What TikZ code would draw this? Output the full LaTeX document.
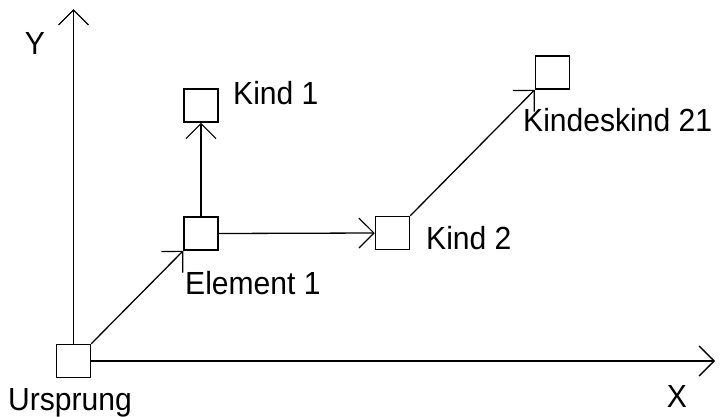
\documentclass[tikz,border=0pt]{standalone}
\usepackage{fontspec}
\setmainfont[FakeStretch=0.94]{Liberation Sans}
\usetikzlibrary{arrows.meta}
\begin{document}
\begin{tikzpicture}[x=1pt,y=-1pt,
  box/.style={draw,line width=1.5pt,minimum width=34pt,minimum height=33pt,inner sep=0pt},
  lbl/.style={inner sep=0pt,anchor=base west,font=\fontsize{32}{38}\selectfont},
  conn/.style={line width=1.3pt,-{Straight Barb[length=15pt,width=30pt,line width=1.2pt]}},
  axis/.style={line width=1.7pt,-{Straight Barb[length=15pt,width=30pt,line width=1.4pt]}}]
\useasboundingbox (0,0) rectangle (720,416);
% boxes
\node[box] (U) at (73.5,361) {};
\node[box] (E1) at (201,233.5) {};
\node[box] (K1) at (201,105.5) {};
\node[box] (K2) at (392.5,233) {};
\node[box] (KK) at (552.5,72.5) {};
% axis ends
\coordinate (ytip) at (73.5,9);
\coordinate (xtip) at (715,361);
% axes
\draw[axis] (U.north) -- (ytip);
\draw[axis] (U.east) -- (xtip);
% connectors
\draw[conn] (U.north east) -- (E1.south west);
\draw[conn] (E1.north) -- (K1.south);
\draw[conn] (E1.east) -- (K2.west);
\draw[conn] (K2.north east) -- (KK.south west);
% labels
\node[lbl,anchor=center] (ylbl) at (35,43) {Y};
\node[lbl,anchor=center] (xlbl) at (677,396) {X};
\node[lbl] (ulbl) at (8,410) {Ursprung};
\node[lbl] (e1lbl) at (185,294) {Element 1};
\node[lbl] (k1lbl) at (233,104) {Kind 1};
\node[lbl] (k2lbl) at (426,249) {Kind 2};
\node[lbl] (kklbl) at (523,131) {Kindeskind 21};
\end{tikzpicture}
\end{document}
